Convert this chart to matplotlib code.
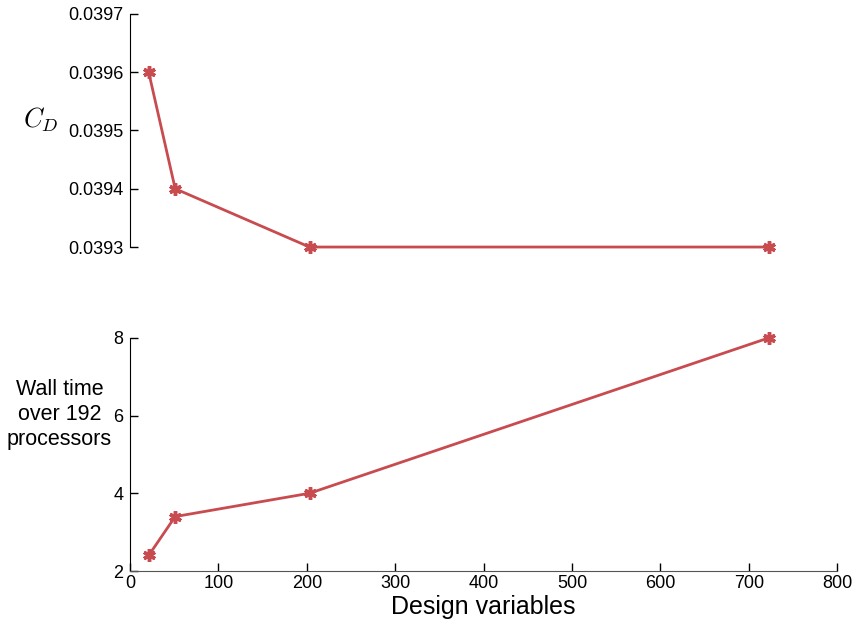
import matplotlib
matplotlib.use("Agg")
import matplotlib.pyplot as plt

design_vars = [21, 51, 203, 723]
cd_values = [0.0396, 0.0394, 0.0393, 0.0393]
wall_time = [2.4, 3.4, 4.0, 8.0]
cd_ticks = [0.0393, 0.0394, 0.0395, 0.0396, 0.0397]
wt_ticks = [2, 4, 6, 8]
x_ticks = [0, 100, 200, 300, 400, 500, 600, 700, 800]

plt.rcParams['font.family'] = ['Liberation Sans', 'DejaVu Sans']
plt.rcParams['mathtext.fontset'] = 'cm'
color = '#c84b50'

fig = plt.figure(figsize=(8.56, 6.27), dpi=100)
ax1 = fig.add_axes([0.152, 0.606, 0.826, 0.372])
ax2 = fig.add_axes([0.152, 0.0893, 0.826, 0.372])

mk = dict(color=color, lw=2, marker=(6, 2, 0), markersize=9, markeredgewidth=2.5,
          clip_on=False, zorder=5)
ax1.plot(design_vars, cd_values, **mk)
ax2.plot(design_vars, wall_time, **mk)

for ax in (ax1, ax2):
    ax.set_xlim(0, 800)
    ax.spines['top'].set_visible(False)
    ax.spines['right'].set_visible(False)
    ax.tick_params(direction='in', labelsize=13, length=6, width=1, pad=5)

ax1.set_ylim(0.0393, 0.0397)
ax1.set_yticks(cd_ticks)
ax1.set_yticklabels(['%.4f' % v for v in cd_ticks])
ax1.spines['bottom'].set_visible(False)
ax1.set_xticks([])
ax1.set_ylabel(r'$C_D$', rotation=0, fontsize=19, va='center', ha='center')
ax1.yaxis.set_label_coords(-0.126, 0.545)

ax2.set_ylim(2, 8)
ax2.set_yticks(wt_ticks)
ax2.set_xticks(x_ticks)
ax2.tick_params(axis='x', pad=3)
ax2.spines['bottom'].set_color('#555555')
ax2.set_xlabel('Design variables', fontsize=18, labelpad=2)
ax2.set_ylabel('Wall time\nover 192\nprocessors', rotation=0, fontsize=15.5,
               ha='center', va='center', labelpad=0, linespacing=1.25)
ax2.yaxis.set_label_coords(-0.1, 0.67)

fig.savefig('out.png', dpi=100)
